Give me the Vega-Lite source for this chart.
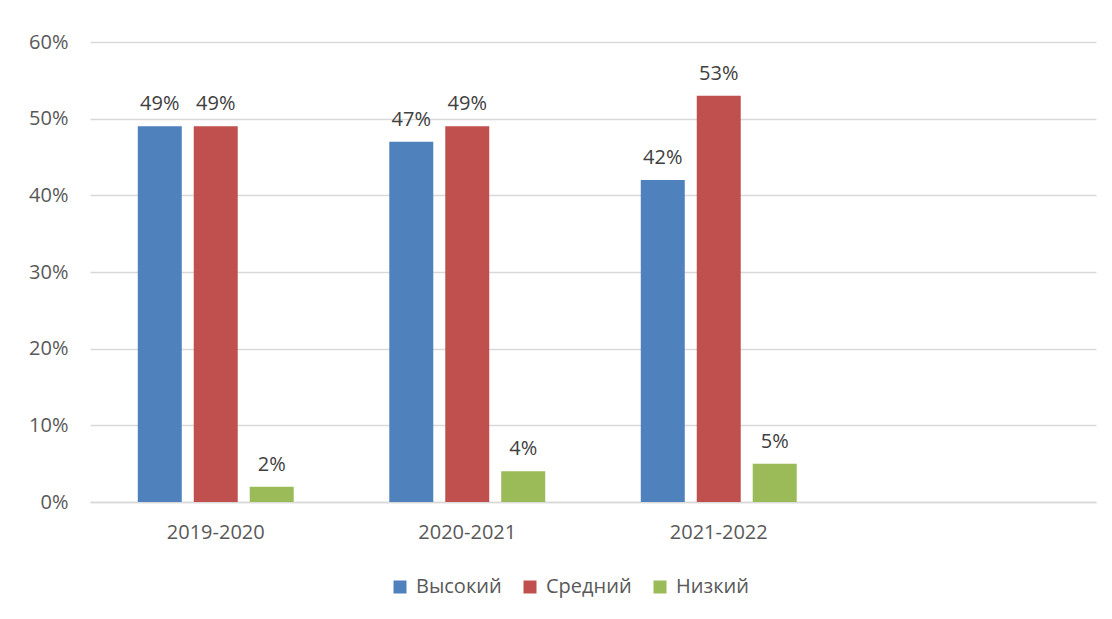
{
  "$schema": "https://vega.github.io/schema/vega-lite/v6.json",
  "width": 1006,
  "height": 460,
  "autosize": {"type": "none"},
  "padding": {"left": 90, "top": 42, "right": 16, "bottom": 117},
  "background": "white",
  "config": {
    "view": {"stroke": null},
    "font": "Open Sans",
    "axis": {"labelFont": "Open Sans", "labelFontSize": 20, "labelColor": "#595959"},
    "legend": {"labelFont": "Open Sans", "labelFontSize": 20, "labelColor": "#595959"}
  },
  "data": {
    "values": [
      {"year": "2019-2020", "level": "Высокий", "value": 0.49},
      {"year": "2019-2020", "level": "Средний", "value": 0.49},
      {"year": "2019-2020", "level": "Низкий", "value": 0.02},
      {"year": "2020-2021", "level": "Высокий", "value": 0.47},
      {"year": "2020-2021", "level": "Средний", "value": 0.49},
      {"year": "2020-2021", "level": "Низкий", "value": 0.04},
      {"year": "2021-2022", "level": "Высокий", "value": 0.42},
      {"year": "2021-2022", "level": "Средний", "value": 0.53},
      {"year": "2021-2022", "level": "Низкий", "value": 0.05}
    ]
  },
  "encoding": {
    "x": {
      "field": "year", "type": "nominal",
      "scale": {"domain": ["2019-2020", "2020-2021", "2021-2022", " "], "paddingInner": 0.38, "paddingOuter": 0.19},
      "axis": {"title": null, "labelAngle": 0, "ticks": false, "domain": true, "domainColor": "#D9D9D9", "domainWidth": 1.5, "labelPadding": 20}
    },
    "xOffset": {
      "field": "level", "type": "nominal",
      "scale": {"domain": ["Высокий", "Средний", "Низкий"], "paddingInner": 0.214, "paddingOuter": 0}
    },
    "y": {
      "field": "value", "type": "quantitative",
      "scale": {"domain": [0, 0.6], "nice": false},
      "axis": {"title": null, "format": ".0%", "values": [0, 0.1, 0.2, 0.3, 0.4, 0.5, 0.6], "domain": false, "ticks": false, "gridColor": "#D9D9D9", "gridWidth": 1.5, "labelPadding": 22}
    }
  },
  "layer": [
    {
      "mark": {"type": "bar"},
      "encoding": {
        "color": {
          "field": "level", "type": "nominal",
          "scale": {"domain": ["Высокий", "Средний", "Низкий"], "range": ["#4F81BD", "#C0504D", "#9BBB59"]},
          "legend": {"title": null, "orient": "none", "legendX": 300, "legendY": 535, "direction": "horizontal", "symbolType": "square", "symbolSize": 169, "symbolStrokeWidth": 0, "symbolOpacity": 1, "columnPadding": 18, "labelOffset": 6}
        }
      }
    },
    {
      "mark": {"type": "text", "baseline": "bottom", "dy": -12, "fontSize": 20, "color": "#404040", "font": "Open Sans"},
      "encoding": {
        "text": {"field": "value", "type": "quantitative", "format": ".0%"}
      }
    }
  ]
}
